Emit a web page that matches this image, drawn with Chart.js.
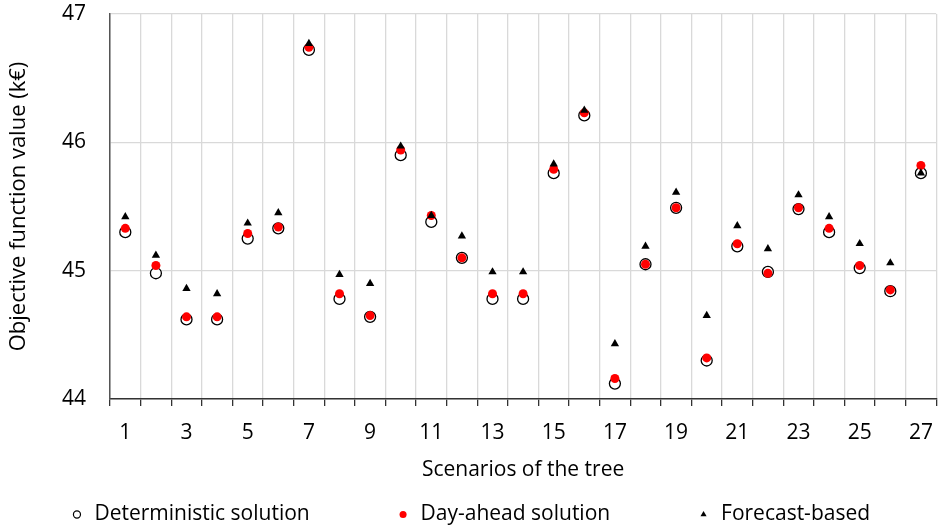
<!DOCTYPE html>
<html>
<head>
<meta charset="utf-8">
<script src="https://cdn.jsdelivr.net/npm/chart.js@4/dist/chart.umd.min.js"></script>
<style>
html,body{margin:0;padding:0;background:#fff;}
#wrap{width:943px;height:530px;position:relative;}
</style>
</head>
<body>
<div id="wrap"><canvas id="c" width="943" height="530"></canvas></div>
<script>
const categories = ["1","2","3","4","5","6","7","8","9","10","11","12","13","14","15","16","17","18","19","20","21","22","23","24","25","26","27"];
const deterministic = [45.30,44.98,44.62,44.62,45.25,45.33,46.72,44.78,44.64,45.90,45.38,45.10,44.78,44.78,45.76,46.21,44.12,45.05,45.49,44.30,45.19,44.99,45.48,45.30,45.02,44.84,45.76];
const dayAhead = [45.33,45.04,44.64,44.64,45.29,45.34,46.74,44.82,44.65,45.94,45.43,45.10,44.82,44.82,45.79,46.23,44.16,45.05,45.49,44.32,45.21,44.98,45.49,45.33,45.04,44.85,45.82];
const forecastBased = [45.42,45.12,44.86,44.82,45.37,45.45,46.77,44.97,44.90,45.97,45.43,45.27,44.99,44.99,45.83,46.25,44.43,45.19,45.61,44.65,45.35,45.17,45.59,45.42,45.21,45.06,45.76];
const yTicks = [44,45,46,47];
const seriesNames = ['Deterministic solution','Day-ahead solution','Forecast-based'];

const FONT = "'Open Sans'";
const FS = 21;
const GAP = '\u00A0'.repeat(14);

new Chart(document.getElementById('c'), {
  type: 'line',
  data: {
    labels: categories,
    datasets: [
      {label:seriesNames[0], data: deterministic, showLine:false, order:3,
       pointStyle:'circle', pointRadius:5.5, pointBorderWidth:1.3, pointBorderColor:'#000', pointBackgroundColor:'#fff', borderColor:'#000', backgroundColor:'#fff'},
      {label:seriesNames[1], data: dayAhead, showLine:false, order:2,
       pointStyle:'circle', pointRadius:4.5, pointBorderWidth:0, pointBorderColor:'#ff0000', pointBackgroundColor:'#ff0000', borderColor:'#ff0000', backgroundColor:'#ff0000'},
      {label:seriesNames[2], data: forecastBased, showLine:false, order:1,
       pointStyle:'triangle', pointRadius:4.8, pointBorderWidth:0, pointBorderColor:'#000', pointBackgroundColor:'#000', borderColor:'#000', backgroundColor:'#000'}
    ]
  },
  options: {
    responsive:false, animation:false, devicePixelRatio:1,
    layout:{padding:{left:0,right:3,top:14,bottom:-5}},
    plugins:{
      tooltip:{enabled:false},
      legend:{
        position:'bottom',
        labels:{
          usePointStyle:true, boxWidth:14, boxHeight:5, padding:10, color:'#000',
          font:{family:FONT,size:FS},
          sort:(a,b)=>a.datasetIndex-b.datasetIndex,
          generateLabels:(chart)=>{
            const items = Chart.defaults.plugins.legend.labels.generateLabels(chart);
            items.forEach(it=>{
              if(it.datasetIndex<2) it.text = it.text + GAP;
              if(it.datasetIndex===0){it.lineWidth=1.2; it.strokeStyle='#000'; it.fillStyle='#fff';} else {it.lineWidth=0;}
            });
            return items;
          }
        }
      }
    },
    scales:{
      x:{
        offset:true,
        grid:{offset:true, color:'#d9d9d9', lineWidth:1.3, drawTicks:true, tickLength:7, tickColor:'#333'},
        border:{color:'#333', width:1.5},
        ticks:{autoSkip:false, maxRotation:0, color:'#000', padding:14, font:{family:FONT,size:FS},
          callback:function(v,i){ return (i%2===0)? categories[i] : ''; }},
        title:{display:true, text:'Scenarios of the tree', color:'#000', font:{family:FONT,size:FS}, padding:{top:4,bottom:11}},
        afterFit:(s)=>{ s.height = 95; s.paddingLeft = 0; s.paddingRight = 0; }
      },
      y:{
        min:44, max:47,
        afterBuildTicks:(s)=>{ s.ticks = yTicks.map(v=>({value:v})); },
        grid:{color:'#d9d9d9', lineWidth:1.3, drawTicks:false},
        border:{color:'#555', width:1.5},
        ticks:{color:'#000', padding:24, font:{family:FONT,size:FS}},
        title:{display:true, text:'Objective function value (k€)', color:'#000', font:{family:FONT,size:22}, padding:{top:6,bottom:0}},
        afterFit:(s)=>{ s.width = 110; s.paddingTop = 0; s.paddingBottom = 0; }
      }
    }
  }
});
</script>
</body>
</html>
